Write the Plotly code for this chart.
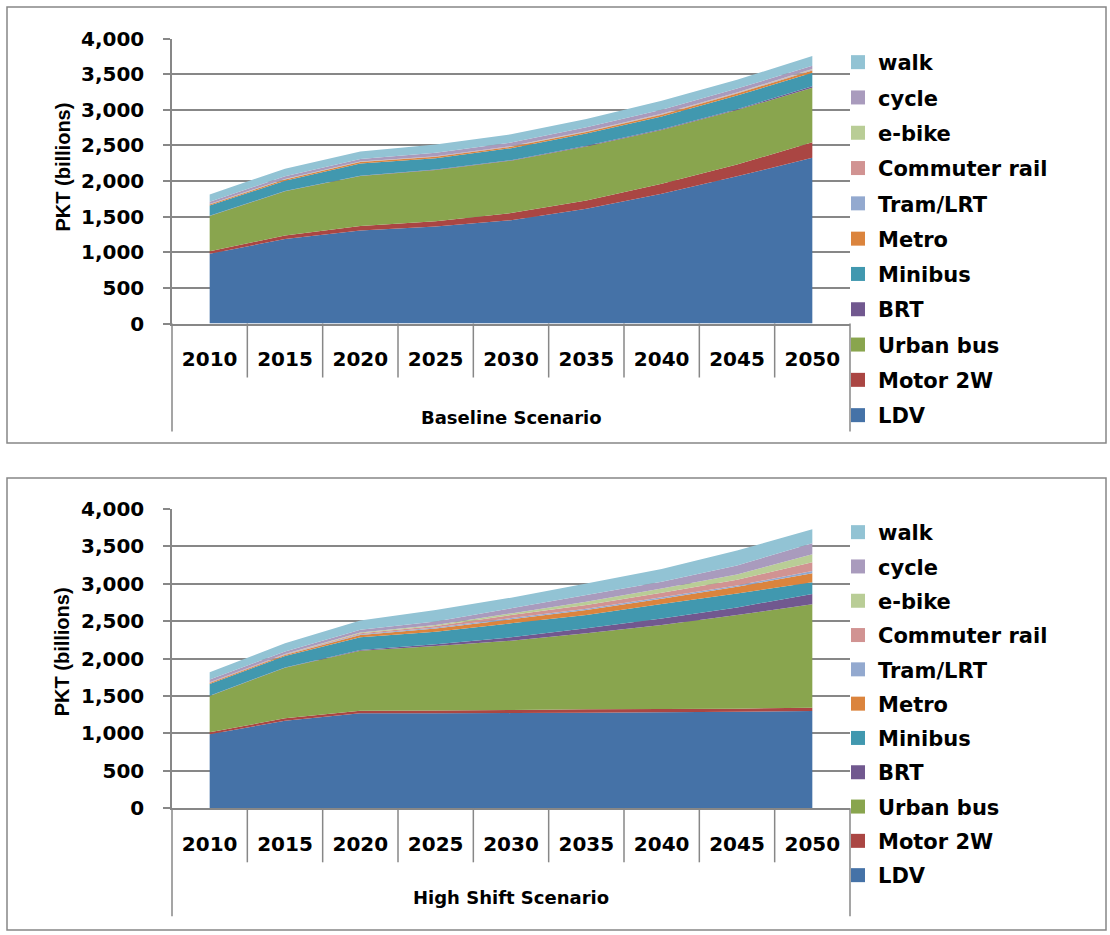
# stacked area charts of passenger km by mode, two scenarios

import plotly.graph_objects as go

years = ["2010", "2015", "2020", "2025", "2030", "2035", "2040", "2045", "2050"]

modes = ["LDV", "Motor 2W", "Urban bus", "BRT", "Minibus", "Metro",
         "Tram/LRT", "Commuter rail", "e-bike", "cycle", "walk"]

colors = ["#4572A7", "#AA4643", "#89A54E", "#71588F", "#4198AF", "#DB843D",
          "#93A9CF", "#D19392", "#B9CD96", "#A99BBD", "#92C3D4"]

# baseline scenario, PKT (billions)
base_ldv = [980, 1185, 1305, 1360, 1450, 1610, 1820, 2065, 2325]
base_2w = [35, 50, 65, 75, 100, 115, 140, 165, 220]
base_bus = [495, 620, 700, 720, 735, 760, 755, 765, 765]
base_brt = [2, 3, 5, 5, 7, 8, 10, 12, 20]
base_minibus = [143, 147, 170, 160, 168, 172, 180, 193, 188]
base_metro = [15, 15, 20, 20, 20, 23, 25, 28, 32]
base_tram = [3, 3, 3, 3, 4, 4, 5, 5, 7]
base_rail = [3, 3, 3, 3, 4, 4, 5, 5, 7]
base_ebike = [2, 2, 2, 2, 2, 3, 3, 4, 8]
base_cycle = [32, 37, 37, 47, 50, 56, 57, 55, 45]
base_walk = [102, 107, 105, 117, 115, 115, 125, 123, 138]

# high shift scenario, PKT (billions)
shift_ldv = [990, 1171, 1270, 1270, 1272, 1278, 1283, 1292, 1301]
shift_2w = [25, 32, 35, 37, 42, 45, 44, 40, 44]
shift_bus = [486, 677, 802, 862, 926, 1015, 1123, 1251, 1381]
shift_brt = [2, 3, 10, 25, 45, 67, 88, 102, 138]
shift_minibus = [158, 152, 168, 167, 187, 178, 192, 187, 156]
shift_metro = [12, 13, 30, 42, 53, 67, 71, 89, 120]
shift_tram = [5, 5, 10, 12, 18, 18, 18, 18, 31]
shift_rail = [5, 5, 15, 20, 40, 49, 62, 76, 116]
shift_ebike = [3, 3, 8, 15, 22, 44, 58, 71, 107]
shift_cycle = [35, 35, 37, 45, 67, 89, 89, 120, 147]
shift_walk = [96, 110, 125, 155, 143, 156, 170, 200, 187]

baseline = [base_ldv, base_2w, base_bus, base_brt, base_minibus, base_metro,
            base_tram, base_rail, base_ebike, base_cycle, base_walk]
high_shift = [shift_ldv, shift_2w, shift_bus, shift_brt, shift_minibus, shift_metro,
              shift_tram, shift_rail, shift_ebike, shift_cycle, shift_walk]

W, H = 1110, 935
grey = "#878787"
font_main = "DejaVu Sans"


def px(x):
    return x / W


def py(y):
    return 1 - y / H


fig = go.Figure()

panels = [
    # (data, x axis, y axis, legend, group)
    (baseline, "x", "y", "legend", "base"),
    (high_shift, "x2", "y2", "legend2", "shift"),
]

for data, xa, ya, leg, grp in panels:
    # the stacked areas
    for name, vals, c in zip(modes, data, colors):
        fig.add_trace(go.Scatter(
            x=years, y=vals, name=name,
            stackgroup=grp, mode="none",
            fillcolor=c, line=dict(width=0),
            xaxis=xa, yaxis=ya, showlegend=False,
        ))
    # square legend keys, walk on top
    for i, (name, c) in enumerate(zip(modes, colors)):
        fig.add_trace(go.Scatter(
            x=[None], y=[None], name=name, mode="markers",
            marker=dict(symbol="square", size=14, color=c),
            xaxis=xa, yaxis=ya, legend=leg, legendgroup=grp + name,
            legendrank=100 - i,
        ))

tick_font = dict(family=font_main, size=20, color="black", weight="bold")

xaxis_style = dict(
    type="category", range=[-0.5, 8.5],
    showline=True, linecolor=grey, linewidth=1.5,
    showgrid=False, ticks="", tickfont=tick_font,
    ticklabelstandoff=17, fixedrange=True, automargin=False,
)
yaxis_style = dict(
    range=[0, 4000], dtick=500, tickformat=",d",
    showline=True, linecolor=grey, linewidth=1.5,
    showgrid=True, gridcolor=grey, gridwidth=1.5,
    ticks="outside", ticklen=7, tickcolor=grey, tickwidth=1.5,
    tickfont=tick_font, ticklabelstandoff=15, zeroline=False,
    automargin=False,
)

legend_style = dict(
    font=dict(family=font_main, size=21, color="black", weight="bold"),
    traceorder="grouped", tracegroupgap=5,
    itemwidth=30, bgcolor="rgba(0,0,0,0)",
    xanchor="left", yanchor="top", x=px(838),
)

fig.update_layout(
    width=W, height=H,
    margin=dict(l=0, r=0, t=0, b=0, pad=0, autoexpand=False),
    paper_bgcolor="white", plot_bgcolor="white",
    xaxis=dict(domain=[px(172), px(850)], anchor="y", **xaxis_style),
    yaxis=dict(domain=[py(323.5), py(38.5)], anchor="x", **yaxis_style),
    xaxis2=dict(domain=[px(172), px(850)], anchor="y2", **xaxis_style),
    yaxis2=dict(domain=[py(808.3), py(509)], anchor="x2", **yaxis_style),
    legend=dict(y=py(42), **legend_style),
    legend2=dict(y=py(512), **dict(legend_style, tracegroupgap=4)),
)

# panel frames, category separators, titles
for top, bottom, zero, label, lab_off in [(7, 443, 323.5, "Baseline Scenario", 94),
                                          (478, 930, 808.3, "High Shift Scenario", 89)]:
    fig.add_shape(type="rect", xref="paper", yref="paper",
                  x0=px(7), x1=px(1106), y0=py(bottom), y1=py(top),
                  line=dict(color=grey, width=1.5))
    for i in range(10):
        xpos = 172 + i * (850 - 172) / 9
        end = zero + 108 if i in (0, 9) else zero + 54
        fig.add_shape(type="line", xref="paper", yref="paper",
                      x0=px(xpos), x1=px(xpos), y0=py(zero), y1=py(end),
                      line=dict(color=grey, width=1.5))
    fig.add_annotation(text=label, xref="paper", yref="paper",
                       x=px(511), y=py(zero + lab_off), xanchor="center", yanchor="middle",
                       showarrow=False,
                       font=dict(family=font_main, size=18, color="black", weight="bold"))
    fig.add_annotation(text="PKT (billions)", xref="paper", yref="paper",
                       x=px(62), y=py(zero - 156), xanchor="center", yanchor="middle",
                       textangle=-90, showarrow=False,
                       font=dict(family="Liberation Sans", size=20, color="black", weight="bold"))

# drop the page margin so the figure fills the window exactly
fig.write_html("out.html", config=dict(displayModeBar=False),
               post_script="document.body.style.margin='0';")
